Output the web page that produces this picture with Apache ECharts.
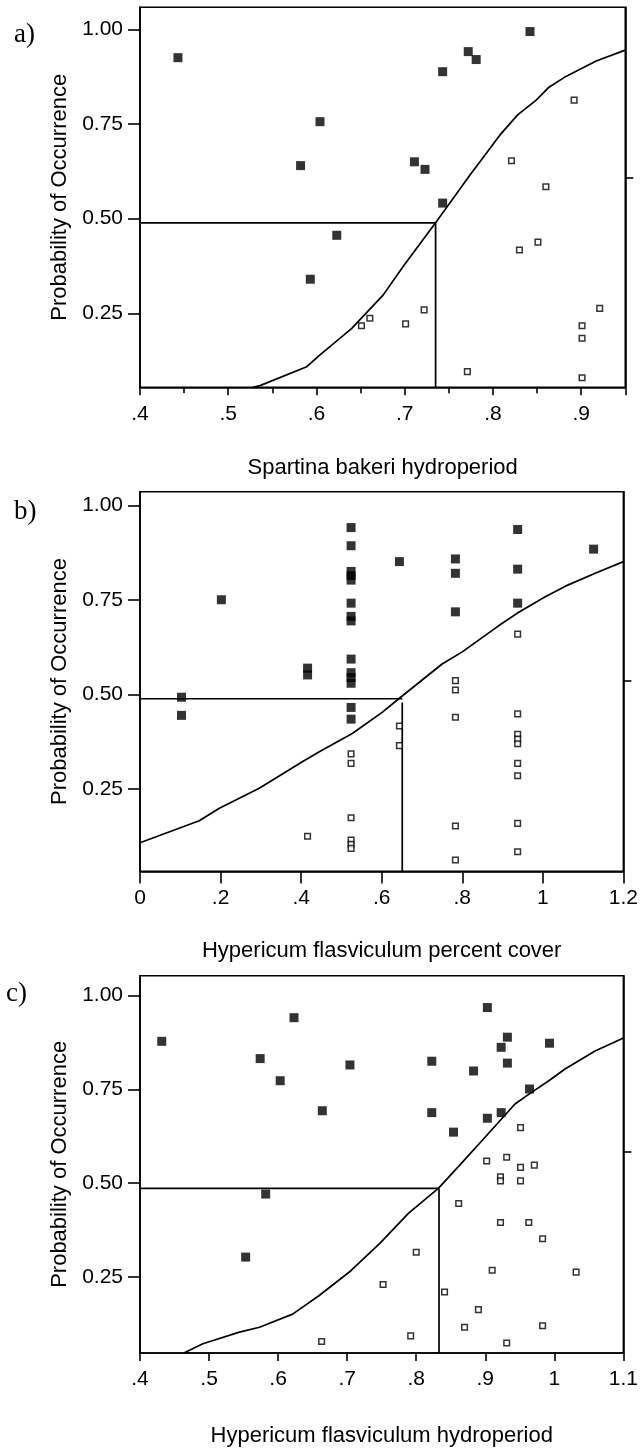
<!DOCTYPE html>
<html>
<head>
<meta charset="utf-8">
<script src="https://cdn.jsdelivr.net/npm/echarts@6/dist/echarts.min.js"></script>
<style>
  html, body { margin: 0; padding: 0; background: #fff; }
  #chart { width: 641px; height: 1448px; }
</style>
</head>
<body>
<div id="chart"></div>
<script>
// ---- a) Spartina bakeri hydroperiod ----
const aXRange = [0.4, 0.95];
const aYRange = [0.0546, 1.058];
const aPresent = [[0.443,0.925],[0.604,0.756],[0.582,0.640],[0.593,0.340],[0.623,0.456],[0.711,0.650],
  [0.723,0.630],[0.743,0.541],[0.743,0.888],[0.772,0.941],[0.781,0.920],[0.842,0.994]];
const aAbsent = [[0.651,0.217],[0.6605,0.237],[0.701,0.222],[0.722,0.259],[0.771,0.096],[0.821,0.653],
  [0.830,0.417],[0.851,0.438],[0.860,0.584],[0.892,0.813],[0.901,0.217],[0.901,0.184],[0.901,0.080],[0.921,0.263]];
const aCurve = [[0.528,0.0546],[0.536,0.059],[0.589,0.109],[0.604,0.140],[0.640,0.210],[0.6755,0.298],
  [0.698,0.373],[0.735,0.489],[0.774,0.615],[0.808,0.721],[0.828,0.774],[0.849,0.813],[0.8635,0.847],
  [0.881,0.873],[0.917,0.916],[0.950,0.945]];
const aCut = [0.735, 0.489];      // [x at cutoff, probability]
const aRightTick = [0.608];

// ---- b) Hypericum flasviculum percent cover ----
const bXRange = [0, 1.2];
const bYRange = [0.032, 1.037];
const bPresent = [[0.103,0.493],[0.103,0.445],[0.202,0.751],[0.416,0.570],[0.416,0.552],
  [0.524,0.942],[0.524,0.894],[0.524,0.826],[0.524,0.815],[0.524,0.803],[0.524,0.742],[0.524,0.707],
  [0.524,0.695],[0.524,0.594],[0.524,0.558],[0.524,0.545],[0.524,0.530],[0.524,0.466],[0.524,0.435],
  [0.644,0.852],[0.783,0.859],[0.783,0.821],[0.783,0.719],[0.9375,0.937],[0.9375,0.832],[0.9375,0.742],
  [1.126,0.885]];
const bAbsent = [[0.416,0.125],[0.524,0.343],[0.524,0.318],[0.524,0.174],[0.524,0.115],[0.524,0.104],
  [0.524,0.093],[0.644,0.417],[0.644,0.365],[0.783,0.537],[0.783,0.512],[0.783,0.440],[0.783,0.152],
  [0.783,0.062],[0.9375,0.660],[0.9375,0.449],[0.9375,0.395],[0.9375,0.382],[0.9375,0.370],
  [0.9375,0.318],[0.9375,0.285],[0.9375,0.159],[0.9375,0.084]];
const bCurve = [[0,0.108],[0.147,0.166],[0.197,0.199],[0.296,0.252],[0.403,0.322],[0.444,0.348],
  [0.527,0.397],[0.601,0.453],[0.647,0.493],[0.750,0.581],[0.800,0.613],[0.890,0.682],[0.936,0.715],
  [1.006,0.759],[1.056,0.787],[1.130,0.821],[1.2,0.852]];
const bCut = [0.651, 0.489];
const bRightTick = [0.536];

// ---- c) Hypericum flasviculum hydroperiod ----
const cXRange = [0.4, 1.1];
const cYRange = [0.0474, 1.0529];
const cPresent = [[0.4315,0.878],[0.574,0.832],[0.603,0.773],[0.623,0.941],[0.582,0.471],[0.553,0.303],
  [0.704,0.815],[0.664,0.693],[0.8225,0.825],[0.8225,0.688],[0.854,0.636],[0.883,0.799],[0.903,0.968],
  [0.932,0.889],[0.923,0.862],[0.932,0.820],[0.993,0.873],[0.964,0.751],[0.923,0.688],[0.903,0.673]];
const cAbsent = [[0.951,0.648],[0.902,0.559],[0.931,0.569],[0.951,0.542],[0.971,0.548],[0.922,0.517],
  [0.922,0.506],[0.951,0.506],[0.8615,0.446],[0.922,0.395],[0.963,0.395],[0.983,0.352],[0.800,0.316],
  [0.910,0.268],[1.0315,0.263],[0.752,0.230],[0.841,0.210],[0.890,0.163],[0.870,0.116],[0.983,0.120],
  [0.792,0.093],[0.931,0.074],[0.663,0.078]];
const cCurve = [[0.4636,0.0474],[0.491,0.072],[0.544,0.103],[0.573,0.116],[0.621,0.151],[0.659,0.200],
  [0.705,0.266],[0.748,0.341],[0.789,0.420],[0.832,0.486],[0.862,0.546],[0.900,0.623],[0.943,0.711],
  [0.967,0.742],[0.992,0.773],[1.016,0.805],[1.059,0.852],[1.100,0.887]];
const cCut = [0.833, 0.486];
const cRightTick = [0.583];

const yTickValues = [0.25, 0.50, 0.75, 1.00];
const yTitle = 'Probability of Occurrence';

const SANS = '"Liberation Sans", Arial, Helvetica, sans-serif';
const SERIF = '"Liberation Serif", "Times New Roman", serif';
const INK = '#000';

const panels = [
  { tag: 'a)', tagPos: [14, 36], box: { left: 140, top: 7.3, width: 485.3, height: 380 },
    xRange: aXRange, yRange: aYRange, xStep: 0.1, minor: true, tickLen: 8, maxLabel: false,
    title: 'Spartina bakeri hydroperiod', titleGap: 70,
    present: aPresent, absent: aAbsent, curve: aCurve, cut: aCut, cutTop: aCut[1], rightTick: aRightTick },
  { tag: 'b)', tagPos: [14, 513], box: { left: 140, top: 491.7, width: 485.2, height: 379.7 },
    xRange: bXRange, yRange: bYRange, xStep: 0.2, minor: false, tickLen: 12, maxLabel: true,
    title: 'Hypericum flasviculum percent cover', titleGap: 69,
    present: bPresent, absent: bAbsent, curve: bCurve, cut: bCut, cutTop: 0.479, rightTick: bRightTick },
  { tag: 'c)', tagPos: [6, 995], box: { left: 140, top: 975.7, width: 485.2, height: 380.2 },
    xRange: cXRange, yRange: cYRange, xStep: 0.1, minor: false, tickLen: 8, maxLabel: true,
    title: 'Hypericum flasviculum hydroperiod', titleGap: 72,
    present: cPresent, absent: cAbsent, curve: cCurve, cut: cCut, cutTop: cCut[1], rightTick: cRightTick }
];

function shortNum(v) {
  const s = String(+v.toFixed(2));
  return s.replace(/^0\./, '.');
}

const grid = [], xAxis = [], yAxis = [], series = [], graphic = [];
const lineStyle = { color: INK, width: 1.6 };

panels.forEach((p, i) => {
  grid.push(Object.assign({ show: true, borderColor: INK, borderWidth: 1.6, backgroundColor: 'transparent' }, p.box));

  xAxis.push({
    gridIndex: i, type: 'value', min: p.xRange[0], max: p.xRange[1], interval: p.xStep,
    name: p.title, nameLocation: 'middle', nameGap: p.titleGap,
    nameTextStyle: { color: INK, fontFamily: SANS, fontSize: 22 },
    axisLine: { show: true, onZero: false, lineStyle: lineStyle },
    axisTick: { show: true, inside: false, length: p.tickLen, lineStyle: lineStyle },
    minorTick: { show: p.minor, splitNumber: 2, length: 6, lineStyle: lineStyle },
    axisLabel: { color: INK, fontFamily: SANS, fontSize: 21, margin: 16, formatter: shortNum,
                 showMaxLabel: p.maxLabel, hideOverlap: false },
    splitLine: { show: false }
  });

  // left probability axis
  yAxis.push({
    gridIndex: i, type: 'value', position: 'left', min: p.yRange[0], max: p.yRange[1],
    name: yTitle, nameLocation: 'middle', nameGap: 61, nameRotate: 90,
    nameTextStyle: { color: INK, fontFamily: SANS, fontSize: 22 },
    axisLine: { show: true, onZero: false, lineStyle: lineStyle },
    axisTick: { show: true, inside: false, length: 12, customValues: yTickValues, lineStyle: lineStyle },
    axisLabel: { color: INK, fontFamily: SANS, fontSize: 21, margin: 17, customValues: yTickValues,
                 formatter: v => v.toFixed(2) },
    splitLine: { show: false }
  });
  // right frame axis with its single tick
  yAxis.push({
    gridIndex: i, type: 'value', position: 'right', min: p.yRange[0], max: p.yRange[1],
    axisLine: { show: true, onZero: false, lineStyle: lineStyle },
    axisTick: { show: true, inside: false, length: 8, customValues: p.rightTick, lineStyle: lineStyle },
    axisLabel: { show: false },
    splitLine: { show: false }
  });

  const xi = i, yi = i * 2;
  const xMin = p.xRange[0], yMin = p.yRange[0];

  series.push({
    type: 'line', xAxisIndex: xi, yAxisIndex: yi, data: p.curve, showSymbol: false, symbol: 'none',
    lineStyle: { color: INK, width: 1.7 }, silent: true, z: 3
  });
  series.push({
    type: 'line', xAxisIndex: xi, yAxisIndex: yi, data: [[xMin, p.cut[1]], [p.cut[0], p.cut[1]]],
    symbol: 'none', lineStyle: { color: INK, width: 1.7 }, silent: true, z: 3
  });
  series.push({
    type: 'line', xAxisIndex: xi, yAxisIndex: yi, data: [[p.cut[0], p.cutTop], [p.cut[0], yMin]],
    symbol: 'none', lineStyle: { color: INK, width: 1.7 }, silent: true, z: 3
  });
  series.push({
    type: 'scatter', xAxisIndex: xi, yAxisIndex: yi, data: p.absent, symbol: 'rect', symbolSize: 5.6,
    itemStyle: { color: '#fff', borderColor: INK, borderWidth: 1.5 }, z: 4
  });
  series.push({
    type: 'scatter', xAxisIndex: xi, yAxisIndex: yi, data: p.present, symbol: 'rect', symbolSize: 9,
    itemStyle: { color: INK }, z: 5
  });

  graphic.push({
    type: 'text', left: p.tagPos[0], top: p.tagPos[1] - 15,
    style: { text: p.tag, fill: INK, font: '27px ' + SERIF }
  });
});

const chart = echarts.init(document.getElementById('chart'), null, { renderer: 'canvas' });
chart.setOption({
  animation: false,
  backgroundColor: '#fff',
  grid: grid,
  xAxis: xAxis,
  yAxis: yAxis,
  series: series,
  graphic: graphic
});
</script>
</body>
</html>
